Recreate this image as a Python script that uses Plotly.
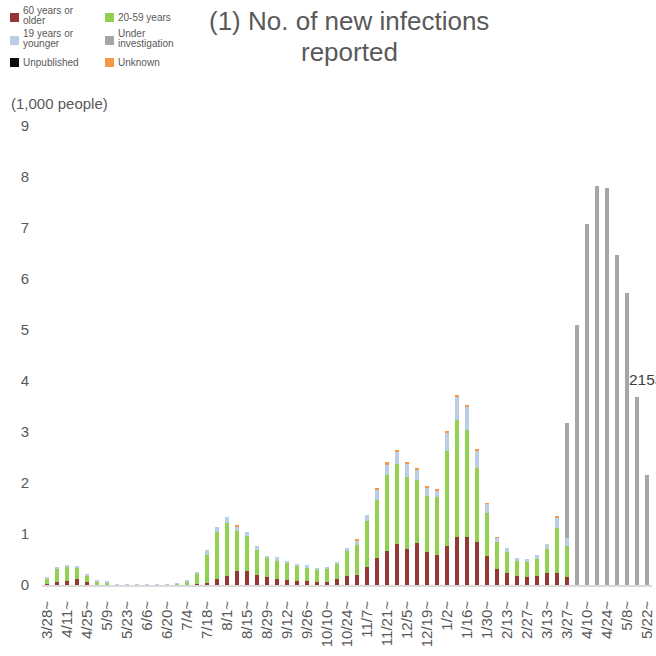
import plotly.graph_objects as go

# Week start labels (weekly, 3/28 -> 5/22)
weeks = ["3/28", "4/4", "4/11", "4/18", "4/25", "5/2", "5/9", "5/16", "5/23", "5/30",
         "6/6", "6/13", "6/20", "6/27", "7/4", "7/11", "7/18", "7/25", "8/1", "8/8",
         "8/15", "8/22", "8/29", "9/5", "9/12", "9/19", "9/26", "10/3", "10/10", "10/17",
         "10/24", "10/31", "11/7", "11/14", "11/21", "11/28", "12/5", "12/12", "12/19", "12/26",
         "1/2", "1/9", "1/16", "1/23", "1/30", "2/6", "2/13", "2/20", "2/27", "3/6",
         "3/13", "3/20", "3/27", "4/3", "4/10", "4/17", "4/24", "5/1", "5/8", "5/15", "5/22"]

# Values in thousands of people
age60_plus = [0.01, 0.065, 0.085, 0.12, 0.065, 0.005, 0.003, 0.0, 0.0, 0.0,
              0.0, 0.0, 0.0, 0.001, 0.003, 0.01, 0.04, 0.12, 0.18, 0.28,
              0.28, 0.20, 0.16, 0.11, 0.10, 0.085, 0.085, 0.065, 0.05, 0.11,
              0.18, 0.20, 0.36, 0.53, 0.67, 0.81, 0.71, 0.83, 0.64, 0.59,
              0.77, 0.95, 0.95, 0.85, 0.56, 0.31, 0.24, 0.18, 0.16, 0.18,
              0.24, 0.24, 0.16, 0, 0, 0, 0, 0, 0, 0, 0]
age20_59 = [0.12, 0.245, 0.27, 0.21, 0.115, 0.065, 0.047, 0.01, 0.004, 0.003,
            0.004, 0.005, 0.006, 0.025, 0.07, 0.20, 0.54, 0.91, 1.04, 0.77,
            0.69, 0.49, 0.36, 0.36, 0.33, 0.295, 0.255, 0.235, 0.26, 0.295,
            0.49, 0.59, 0.90, 1.14, 1.49, 1.57, 1.41, 1.22, 1.11, 1.14,
            1.86, 2.29, 2.09, 1.44, 0.85, 0.53, 0.41, 0.29, 0.30, 0.33,
            0.47, 0.88, 0.60, 0, 0, 0, 0, 0, 0, 0, 0]
age19_under = [0.03, 0.04, 0.025, 0.04, 0.02, 0.01, 0.01, 0.003, 0.001, 0.001,
               0.001, 0.001, 0.002, 0.004, 0.025, 0.05, 0.10, 0.11, 0.11, 0.09,
               0.06, 0.07, 0.05, 0.07, 0.04, 0.04, 0.05, 0.04, 0.04, 0.055,
               0.055, 0.085, 0.12, 0.21, 0.20, 0.24, 0.27, 0.22, 0.17, 0.13,
               0.36, 0.44, 0.46, 0.35, 0.18, 0.09, 0.07, 0.06, 0.05, 0.07,
               0.09, 0.21, 0.16, 0, 0, 0, 0, 0, 0, 0, 0]
unknown = [0, 0, 0, 0, 0, 0, 0, 0, 0, 0,
           0, 0, 0, 0, 0, 0, 0, 0, 0, 0.02,
           0, 0, 0, 0, 0, 0, 0, 0, 0, 0,
           0, 0.01, 0, 0.005, 0.05, 0.01, 0.015, 0.015, 0.005, 0.005,
           0.02, 0.05, 0.02, 0.03, 0.01, 0.005, 0, 0, 0, 0,
           0, 0.01, 0, 0, 0, 0, 0, 0, 0, 0, 0]
under_investigation = [0] * 52 + [2.26, 5.10, 7.08, 7.83, 7.78, 6.48, 5.73, 3.69, 2.153]
unpublished = [0] * 61

series = [
    ("60 years or older", age60_plus, "#953735"),
    ("20-59 years", age20_59, "#92D050"),
    ("19 years or younger", age19_under, "#B9CDE5"),
    ("Unknown", unknown, "#F79646"),
    ("Unpublished", unpublished, "#0D0D0D"),
    ("Under investigation", under_investigation, "#A6A6A6"),
]

tick_vals = weeks[::2]
tick_text = [w + "~" for w in tick_vals]

W, H = 656, 656
ML, MR, MT, MB = 42, 4, 126, 71
PW, PH = W - ML - MR, H - MT - MB

def px2x(px):
    return (px - ML) / PW

def py2y(py):
    return (H - MB - py) / PH

fig = go.Figure()
for name, vals, color in series:
    fig.add_trace(go.Bar(x=weeks, y=vals, name=name,
                         marker=dict(color=color, line=dict(width=0)),
                         showlegend=False))

grey_text = "#595959"
font_fam = "Arial, Liberation Sans, sans-serif"

annotations = []
shapes = []

# Manual legend (two columns, three rows)
legend_items = [
    (["60 years or", "older"], "#953735", 10, 13),
    (["20-59 years"], "#92D050", 105, 13),
    (["19 years or", "younger"], "#B9CDE5", 10, 36),
    (["Under", "investigation"], "#A6A6A6", 105, 36),
    (["Unpublished"], "#0D0D0D", 10, 58),
    (["Unknown"], "#F79646", 105, 58),
]
for lines, color, lx, ly in legend_items:
    shapes.append(dict(type="rect", xref="paper", yref="paper",
                       x0=px2x(lx), x1=px2x(lx + 9), y0=py2y(ly), y1=py2y(ly + 9),
                       fillcolor=color, line=dict(width=0)))
    c = ly + 4.5
    offs = [0] if len(lines) == 1 else [-7, 3]
    for ln, off in zip(lines, offs):
        annotations.append(dict(text=ln, xref="paper", yref="paper",
                                x=px2x(lx + 11), y=py2y(c + off),
                                xanchor="left", yanchor="middle", showarrow=False,
                                font=dict(size=10, color=grey_text, family=font_fam)))

# Title (two lines)
for ln, cy in [("(1) No. of new infections", 21), ("reported", 52)]:
    annotations.append(dict(text=ln, xref="paper", yref="paper",
                            x=px2x(349.5), y=py2y(cy), xanchor="center", yanchor="middle",
                            showarrow=False,
                            font=dict(size=26, color=grey_text, family=font_fam)))

# Unit label
annotations.append(dict(text="(1,000 people)", xref="paper", yref="paper",
                        x=px2x(9), y=py2y(103), xanchor="left", yanchor="middle",
                        showarrow=False, font=dict(size=15, color=grey_text, family=font_fam)))

# Data label of last bar (clipped at the right edge, as in the source)
annotations.append(dict(text=str(round(under_investigation[-1] * 1000)),
                        x=weeks[-3], y=4.03, xref="x", yref="y",
                        xanchor="left", yanchor="middle", xshift=0, showarrow=False,
                        font=dict(size=15.5, color="#404040", family=font_fam)))

fig.update_layout(
    width=W, height=H,
    margin=dict(l=ML, r=MR, t=MT, b=MB, autoexpand=False),
    paper_bgcolor="white", plot_bgcolor="white",
    barmode="stack", bargap=0.6,
    annotations=annotations,
    shapes=shapes,
    xaxis=dict(type="category", categoryorder="array", categoryarray=weeks,
               tickmode="array", tickvals=tick_vals, ticktext=tick_text,
               tickangle=-90, ticks="", showgrid=False, zeroline=False,
               showline=True, linecolor="#D9D9D9", linewidth=2,
               ticklabelstandoff=8, automargin=False,
               tickfont=dict(size=15, color=grey_text, family=font_fam),
               range=[-0.5, len(weeks) - 0.5]),
    yaxis=dict(range=[0, 9], dtick=1, tick0=0, showgrid=False, zeroline=False,
               showline=False, ticks="", ticklabelstandoff=12, automargin=False,
               tickfont=dict(size=15, color=grey_text, family=font_fam)),
)

# Remove the default page margin so the figure fills the window exactly
fig.write_html("out.html",
               config={"displayModeBar": False},
               post_script="document.body.style.margin='0';document.body.style.overflow='hidden';")
